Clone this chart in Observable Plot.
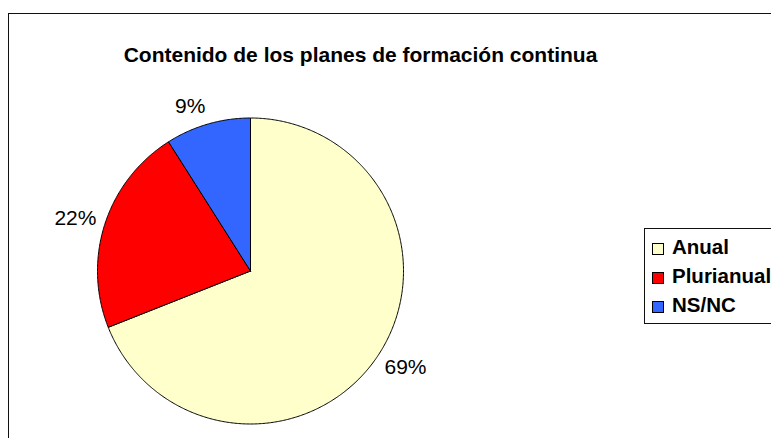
<!DOCTYPE html>
<html>
<head>
<meta charset="utf-8">
<script src="https://cdn.jsdelivr.net/npm/d3@7"></script>
<script src="https://cdn.jsdelivr.net/npm/@observablehq/plot@0.6"></script>
<style>
  html, body { margin: 0; padding: 0; background: #fff; }
  #wrap { position: relative; width: 771px; height: 438px; overflow: hidden; font-family: "Liberation Sans", Arial, sans-serif; }
  #chart { position: absolute; left: 0; top: 0; }
  #frame { position: absolute; left: 8px; top: 13px; width: 900px; height: 600px; border: 1px solid #111; pointer-events: none; }
  #title { position: absolute; left: 0; top: 44px; width: 721px; text-align: center; font-weight: bold; font-size: 21px; line-height: 21px; color: #000; white-space: nowrap; }
  #legend { position: absolute; left: 644px; top: 228px; width: 200px; border: 1px solid #111; padding: 2.7px 0 4px 0; background: #fff; }
  .row { position: relative; height: 29px; line-height: 29px; font-weight: bold; font-size: 20.5px; color: #000; white-space: nowrap; }
  .sw { position: absolute; left: 7px; top: 11.6px; width: 10px; height: 10px; border: 1px solid #000; }
  .lab { position: absolute; left: 27px; top: 0; }
</style>
</head>
<body>
<div id="wrap">
  <div id="chart"></div>
  <div id="title"></div>
  <div id="legend"></div>
  <div id="frame"></div>
</div>
<script>
const title = "Contenido de los planes de formación continua";
const categories = ["Anual", "Plurianual", "NS/NC"];
const values = [69, 22, 9];
const labels = ["69%", "22%", "9%"];
const colors = ["#FFFFCC", "#FF0000", "#3366FF"];

const cx = 250, cy = 270.5, R = 153;
const total = d3.sum(values);

const pts = [];
const labelData = [];
const ctx = document.createElement("canvas").getContext("2d");
ctx.font = "21px 'Liberation Sans', Arial, sans-serif";
let cum = 0;
values.forEach((v, i) => {
  const a0 = cum / total * 2 * Math.PI;
  cum += v;
  const a1 = cum / total * 2 * Math.PI;
  const n = Math.max(2, Math.ceil((a1 - a0) / (Math.PI / 360)));
  pts.push({cat: categories[i], x: 0, y: 0});
  for (let k = 0; k <= n; k++) {
    const a = a0 + (a1 - a0) * k / n;
    pts.push({cat: categories[i], x: Math.sin(a), y: Math.cos(a)});
  }
  pts.push({cat: categories[i], x: 0, y: 0});
  const am = (a0 + a1) / 2;
  const dx = Math.sin(am), dy = Math.cos(am);
  const w = ctx.measureText(labels[i]).width;
  labelData.push({
    text: labels[i],
    x: dx * (1 + 9 / R) + Math.sign(dx) * (w / 2) / R,
    y: dy * (1 + 9 / R) + dy * 10 / R
  });
});

const plot = Plot.plot({
  width: 771,
  height: 438,
  margin: 0,
  x: {domain: [-1, 1], range: [cx - R, cx + R], axis: null},
  y: {domain: [-1, 1], range: [cy + R, cy - R], axis: null},
  color: {domain: categories, range: colors},
  style: {background: "transparent", fontFamily: "'Liberation Sans', Arial, sans-serif"},
  marks: [
    Plot.line(pts, {x: "x", y: "y", z: "cat", fill: "cat", stroke: "#000", strokeWidth: 1, strokeLinejoin: "round"}),
    Plot.text(labelData, {x: "x", y: "y", text: "text", fontSize: 21, fill: "#000"})
  ]
});
document.getElementById("chart").appendChild(plot);
document.getElementById("title").textContent = title;

const legend = document.getElementById("legend");
categories.forEach((c, i) => {
  const row = document.createElement("div");
  row.className = "row";
  const sw = document.createElement("div");
  sw.className = "sw";
  sw.style.background = colors[i];
  const lab = document.createElement("span");
  lab.className = "lab";
  lab.textContent = c;
  row.appendChild(sw);
  row.appendChild(lab);
  legend.appendChild(row);
});
</script>
</body>
</html>
